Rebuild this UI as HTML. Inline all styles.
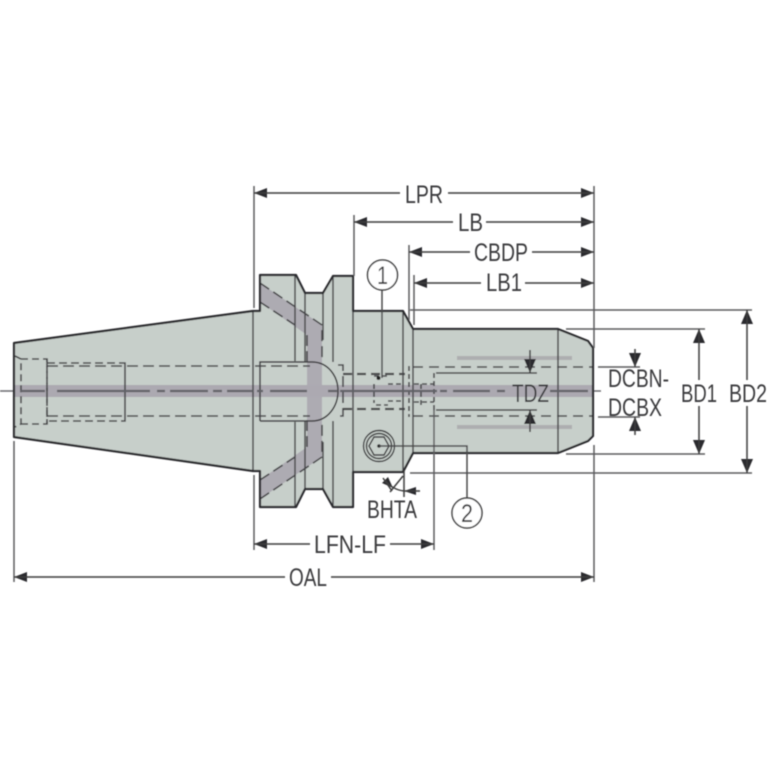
<!DOCTYPE html>
<html><head><meta charset="utf-8"><style>
html,body{margin:0;padding:0;background:#fff}
svg{display:block}
text{font-family:"Liberation Sans",sans-serif;font-size:25px;fill:#3a3a3c}
</style></head><body>
<svg width="767" height="767" viewBox="0 0 767 767" xmlns="http://www.w3.org/2000/svg">
<defs>
<filter id="b" x="0" y="0" width="100%" height="100%"><feGaussianBlur stdDeviation="0.6"/></filter>
</defs>
<g filter="url(#b)">
<!-- body -->
<path d="M14 343L253 311H260V275H296L305 293H323L333 276H353V311H403L413 329H558L588 341L593 348V436L588 441L558 453H413L403 472H353V507H333L323 489H305L296 507H260V471H253L14 437Z" fill="#c7cfca"/>
<!-- diagonal gray bands -->
<path d="M260 283L322 325V365H307V335L260 302Z" fill="#adabb2"/>
<path d="M260 499L322 457V417H307V447L260 480Z" fill="#adabb2"/>
<rect x="307" y="362" width="15" height="59" fill="#adabb2"/>
<!-- center band -->
<rect x="14" y="385" width="579" height="12" fill="#aca9b1"/>
<rect x="457" y="356" width="115" height="4" fill="#adaeb0"/>
<rect x="457" y="425" width="115" height="4" fill="#adaeb0"/>
<!-- bore -->
<path d="M260 421V362H312C328 362 338 376 338 391C338 406 328 421 312 421H260" fill="none" stroke="#3a3a3c" stroke-width="1.5"/>
<!-- internal solid lines -->
<g stroke="#47474a" stroke-width="1.5" fill="none">
<path d="M253 311V471M295 276V361M295 422V506M305 293V362M305 421V489M323 293V340M323 442V489M333 276V362M333 421V506M353 276V507M403 311V472M413 329V453M558 329V453"/>
<path d="M436 373H537M436 410H537"/>
</g>
<!-- dashed hidden lines -->
<g stroke="#47474a" stroke-width="1.6" fill="none" stroke-dasharray="11 5">
<path d="M47 366H310M47 416H310"/>
<path d="M15 356L21 359V424L15 427" stroke-dasharray="7 4"/>
<path d="M21 359H47V424H21" stroke-dasharray="7 4"/>
<path d="M47 363H125V421H47M125 365V419M47 359V424" stroke-dasharray="8 4"/>
<path d="M260 283L322 325V362M260 302L295 325M307 335V362"/>
<path d="M260 499L322 457V420M260 480L295 457M307 447V420"/>
<path d="M413 367H593M413 416H593" stroke-dasharray="10 6"/>
<path d="M343 374H405M343 409H405" stroke-width="2.2" stroke-dasharray="9 5"/>
<path d="M338 365H343V416H338"/>
<path d="M374 384V403M374 376H388M376 405H388M388 384H402M388 401H402M409 366V417M434 373V411M421 384V405M414 384H434M414 402H434" stroke-dasharray="5 3"/>
</g>
<!-- centerline -->
<path d="M0 391H14" stroke="#6a6a6e" stroke-width="1.5"/>
<path d="M20 391H45M57 391H150M157 391H165M170 391H208M213 391H222M227 391H253M257 391H263M270 391H307M328 391H337M340 391H437M440 391H447M453 391H490M497 391H505M550 391H588" stroke="#626267" stroke-width="2.2" fill="none"/>
<path d="M593 391H601" stroke="#65656a" stroke-width="1.4"/>
<!-- outline -->
<path d="M14 343L253 311H260V275H296L305 293H323L333 276H353V311H403L413 329H558L588 341L593 348V436L588 441L558 453H413L403 472H353V507H333L323 489H305L296 507H260V471H253L14 437Z" fill="none" stroke="#2b2b2d" stroke-width="2.2" stroke-linejoin="round"/>
<!-- extension lines -->
<g stroke="#5c5c5e" stroke-width="1.5" fill="none">
<path d="M254 186V308M254 475V550M594 186V348M594 445V582M354 215V276M409 245V320M414 275V325M434 410V550M14 441V582"/>
<path d="M410 310H752M410 473H752M566 329H705M566 454H705M598 367H640M598 417H640"/>
</g>
<!-- arrowheads -->
<g fill="#2c2c2e">
<path d="M254 193l13-5v10zM594 193l-13-5v10zM354 222l13-5v10zM594 222l-13-5v10zM409 252l13-5v10zM594 252l-13-5v10zM414 283l13-5v10zM594 283l-13-5v10zM254 544l13-5v10zM434 544l-13-5v10zM14 577l13-5v10zM594 577l-13-5v10z"/>
<path d="M699 329l-6 14h12zM699 454l-6-14h12zM747 310l-6 14h12zM747 473l-6-14h12z"/>
<path d="M530 373l-6-14h12zM530 410l-6 14h12zM635 367l-6-14h12zM635 417l-6 14h12z"/>
<path d="M393 488l-11-5 6-6zM404 491l12-4v8z"/>
</g>
<!-- dimension lines -->
<g stroke="#3c3c3e" stroke-width="1.5" fill="none">
<path d="M254 193H400M448 193H594M354 222H453M486 222H594M409 252H470M532 252H594M414 283H481M525 283H594M254 544H310M390 544H434M14 577H285M331 577H594"/>
<path d="M699 329V380M699 406V454M747 310V380M747 406V473"/>
<path d="M530 350V373M530 410V432M635 349V367M635 417V435"/>
<path d="M383 478L392 491M403 476L390 492M404 470V497M385 480C390 487 396 490 404 491H420"/>
</g>
<!-- screw -->
<g fill="none" stroke="#3a3a3c" stroke-width="1.4">
<circle cx="379" cy="446" r="15.5"/><circle cx="379" cy="446" r="12.5"/>
<path d="M389 446L384 455H374L369 446L374 437H384Z"/>
</g>
<circle cx="379" cy="446" r="1.8" fill="#222"/>
<path d="M379 446H467V498" fill="none" stroke="#4a4a4c" stroke-width="1.5"/>
<path d="M382 289V378" stroke="#4a4a4c" stroke-width="1.5"/>
<circle cx="378.5" cy="378" r="2" fill="#222"/>
<circle cx="382.5" cy="275" r="15" fill="#fff" stroke="#3c3c3e" stroke-width="1.5"/>
<circle cx="467" cy="513" r="15" fill="#fff" stroke="#3c3c3e" stroke-width="1.5"/>
<!-- labels -->
<text x="405" y="203" textLength="38" lengthAdjust="spacingAndGlyphs">LPR</text>
<text x="458" y="231" textLength="25" lengthAdjust="spacingAndGlyphs">LB</text>
<text x="474" y="261" textLength="54" lengthAdjust="spacingAndGlyphs">CBDP</text>
<text x="486" y="291" textLength="36" lengthAdjust="spacingAndGlyphs">LB1</text>
<text x="314" y="553" textLength="72" lengthAdjust="spacingAndGlyphs">LFN-LF</text>
<text x="289" y="586" textLength="38" lengthAdjust="spacingAndGlyphs">OAL</text>
<text x="512" y="402" textLength="37" lengthAdjust="spacingAndGlyphs">TDZ</text>
<text x="608" y="387" textLength="61" lengthAdjust="spacingAndGlyphs">DCBN-</text>
<text x="608" y="416" textLength="54" lengthAdjust="spacingAndGlyphs">DCBX</text>
<text x="681" y="402" textLength="36" lengthAdjust="spacingAndGlyphs">BD1</text>
<text x="729" y="402" textLength="38" lengthAdjust="spacingAndGlyphs">BD2</text>
<text x="367" y="518" textLength="50" lengthAdjust="spacingAndGlyphs">BHTA</text>
<text x="377" y="284" textLength="11" lengthAdjust="spacingAndGlyphs">1</text>
<text x="461" y="522" textLength="12" lengthAdjust="spacingAndGlyphs">2</text>
</g>
</svg>
</body></html>
